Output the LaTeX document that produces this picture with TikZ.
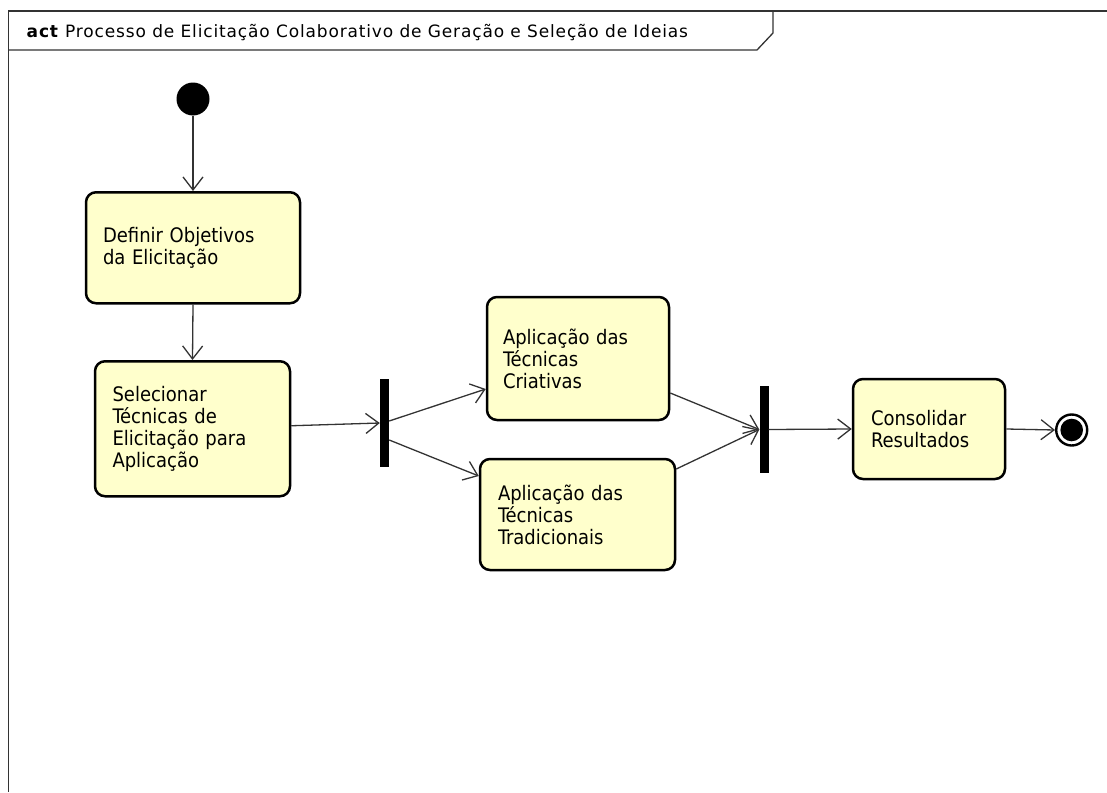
\documentclass[tikz,border=0pt]{standalone}
\usepackage{fontspec}
\setmainfont{DejaVu Sans Condensed}
\newfontfamily\titlefont{DejaVu Sans}[LetterSpace=5]
\usetikzlibrary{arrows.meta}
\definecolor{actfill}{RGB}{255,255,204}
\definecolor{linec}{RGB}{51,51,51}
\begin{document}
\begin{tikzpicture}[x=1pt,y=-1pt,
  action/.style={draw=black, line width=2.5pt, fill=actfill, rounded corners=10pt,
    align=left, anchor=center, font=\fontsize{20}{22}\selectfont,
    inner ysep=0pt},
  forkbar/.style={fill=black, draw=none, inner sep=0pt, minimum width=9pt},
  flow/.style={draw=linec, line width=1.3pt,
    -{Straight Barb[length=13pt,width=20pt,line width=1.3pt]}},
  frameline/.style={draw=linec, line width=1.3pt}]
\useasboundingbox (0,0) rectangle (1107,792);
% frame
\draw[frameline] (1107,11) -- (8.5,11) -- (8.5,792);
\draw[frameline] (8.5,50) -- (757,50) -- (773,33) -- (773,11);
\node[anchor=base west, inner sep=0pt, font=\titlefont\fontsize{17}{20}\selectfont] (title) at (26.5,37.5)
  {\textbf{act} Processo de Elicitação Colaborativo de Geração e Seleção de Ideias};
% initial and final
\node[circle, fill=black, inner sep=0pt, minimum size=33pt] (init) at (193,99) {};
\node[circle, draw=black, line width=2.4pt, fill=white, inner sep=0pt, minimum size=31pt] (final) at (1071.7,430) {};
\node[circle, fill=black, inner sep=0pt, minimum size=22.6pt] (finaldot) at (1071.7,430) {};
% actions
\node[action, minimum width=214pt, minimum height=111pt, inner xsep=17pt, text width=180pt] (b1) at (193,247.75)
  {Definir Objetivos\\da Elicitação};
\node[action, minimum width=195pt, minimum height=135pt, inner xsep=17.5pt, text width=160pt] (b2) at (192.5,428.75)
  {Selecionar\\Técnicas de\\Elicitação para\\Aplicação};
\node[action, minimum width=182pt, minimum height=123pt, inner xsep=16pt, text width=150pt] (b3) at (578,358.5)
  {Aplicação das\\Técnicas\\Criativas};
\node[action, minimum width=195pt, minimum height=111pt, inner xsep=18pt, text width=159pt] (b4) at (577.5,514.5)
  {Aplicação das\\Técnicas\\Tradicionais};
\node[action, minimum width=152pt, minimum height=100pt, inner xsep=18pt, text width=116pt] (b5) at (929,429)
  {Consolidar\\Resultados};
% fork / join bars
\node[forkbar, minimum height=88pt] (fork) at (384.5,423) {};
\node[forkbar, minimum height=87pt] (join) at (764,429.5) {};
% connectors
\draw[flow] (init.south) -- (b1.north);
\draw[flow] (b1.south) -- (b2.north);
\draw[flow] ([yshift=3pt]b2.east) -- (fork.west);
\draw[flow] ([yshift=2pt]fork.east) -- ([yshift=-30.5pt]b3.west);
\draw[flow] ([yshift=-17pt]fork.east) -- ([yshift=38.5pt]b4.west);
\draw[flow] ([yshift=-34.5pt]b3.east) -- (join.west);
\draw[flow] ([yshift=45.5pt]b4.east) -- (join.west);
\draw[flow] (join.east) -- (b5.west);
\draw[flow] (b5.east) -- (final.west);
\end{tikzpicture}
\end{document}
